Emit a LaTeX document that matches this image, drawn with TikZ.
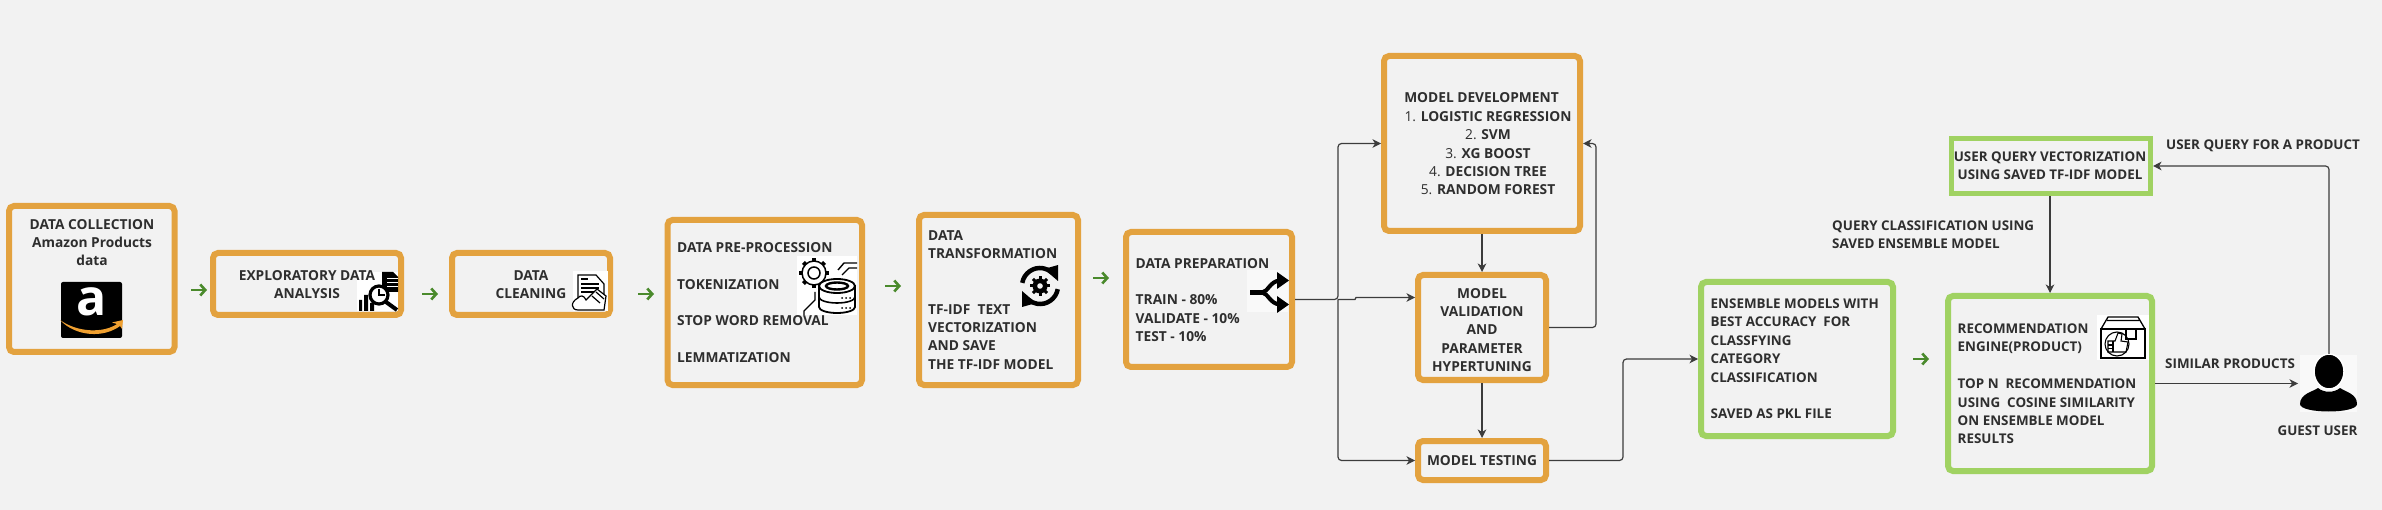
\documentclass[tikz,border=0pt]{standalone}
\usepackage{fontspec}
\setmainfont{Open Sans}
\usetikzlibrary{arrows.meta,calc}
\definecolor{bgc}{HTML}{F2F2F2}
\definecolor{orangeb}{HTML}{E3A23F}
\definecolor{greenb}{HTML}{A0D262}
\definecolor{txt}{HTML}{2E2E2E}
\definecolor{greenarr}{HTML}{4A8A2C}
\definecolor{conn}{HTML}{3C3C3C}
\definecolor{swoosh}{HTML}{F0A030}
\tikzset{
 obox/.style={draw=orangeb,line width=6pt,rounded corners=5pt,fill=none},
 gbox/.style={draw=greenb,line width=6pt,rounded corners=5pt,fill=none},
 gsq/.style={draw=greenb,line width=5pt,fill=none},
 lab/.style={inner sep=0pt,text=txt,font=\fontsize{13.75}{18.4}\selectfont\bfseries},
 labn/.style={inner sep=0pt,text=txt,font=\fontsize{13.4}{18.4}\selectfont\bfseries},
 labc/.style={lab,align=center},
 labl/.style={lab,align=left},
 labnc/.style={labn,align=center},
 labnl/.style={labn,align=left},
 conn line/.style={draw=conn,line width=1.2pt,rounded corners=3.5pt,-{Stealth[length=8.5pt,width=8.5pt,inset=2.5pt]}},
 garrow/.style={draw=greenarr,line width=2.6pt,-{Straight Barb[length=5pt,width=11pt]}},
 patch/.style={fill=white,draw=none},
 ico/.style={draw=black,line width=1.2pt},
}
\begin{document}
\begin{tikzpicture}[x=1pt,y=-1pt]
\fill[bgc] (0,0) rectangle (2382,510);
\useasboundingbox (0,0) rectangle (2382,510);

% boxes
\node[obox,minimum width=165.5pt,minimum height=146pt] (b1) at (91.75,279) {};
\node[obox,minimum width=188pt,minimum height=62pt] (b2) at (307,284) {};
\node[obox,minimum width=158pt,minimum height=62pt] (b3) at (531,284) {};
\node[obox,minimum width=194.5pt,minimum height=165pt] (b4) at (764.75,302.5) {};
\node[obox,minimum width=159pt,minimum height=170pt] (b5) at (998.5,300) {};
\node[obox,minimum width=166pt,minimum height=135pt] (b6) at (1209,299.5) {};
\node[obox,minimum width=196pt,minimum height=175pt] (dev) at (1482,143.5) {};
\node[obox,minimum width=128pt,minimum height=105pt] (val) at (1482,327.5) {};
\node[obox,minimum width=128pt,minimum height=39pt] (tst) at (1482,460.5) {};
\node[gbox,minimum width=192pt,minimum height=154pt] (ens) at (1797,359) {};
\node[gbox,minimum width=204pt,minimum height=175pt] (rec) at (2050,383.5) {};
\node[gsq,minimum width=199pt,minimum height=55pt] (uq) at (2051,166) {};

% Amazon logo
\fill[black,rounded corners=2pt] (61,282) rectangle (122,338);
\node[inner sep=0pt,text=white,font=\fontsize{50}{50}\selectfont\bfseries] (alogo) at (91.5,302) {a};
\path[fill=swoosh] (60,320) .. controls (78,333) and (104,333) .. (117,324) -- (112,322.5) -- (123,320) -- (122,329) -- (120,326) .. controls (104,338) and (76,337) .. (60,320) -- cycle;

% EDA icon
\fill[patch] (357,272) rectangle (398,311);
\fill[black] (382,272) -- (393,272) -- (398,277) -- (398,292) -- (382,292) -- cycle;
\foreach \yy in {279,283,287} \draw[white,line width=1pt] (387,\yy) -- (398,\yy);
\fill[black] (359,300) rectangle (362,311) (364,295) rectangle (368,311) (370,303) rectangle (374,311);
\draw[black,line width=4pt] (386,302) -- (397,310);
\draw[black,line width=3.2pt,fill=white] (379,295) circle (9pt);
\draw[black,line width=1.2pt] (379,289) -- (379,295) -- (385,295);

% cleaning icon
\fill[patch] (573,271) rectangle (608,311);
\draw[ico,fill=white] (578,275) -- (596,275) -- (604,284) -- (604,300) -- (578,300) -- cycle;
\draw[ico] (581,279) -- (588,279) (581,284) -- (599,284) (581,288) -- (599,288) (581,292) -- (599,292);
\draw[ico,fill=white] (578,298) .. controls (570,302) and (571,310) .. (578,310) -- (604,310) -- (606,296) -- (597,289) -- (586,300) .. controls (584,295) and (580,295) .. (578,298) -- cycle;
\draw[ico] (592,296) -- (600,303) (596,292) -- (604,299);

% database + gear icon
\fill[patch] (797,256) rectangle (857,315);
\foreach \a in {0,45,...,315} \draw[black,line width=4pt] ($(814,273)+(\a:11)$) -- ($(814,273)+(\a:15)$);
\draw[black,line width=1.5pt,fill=white] (814,273) circle (12pt);
\draw[black,line width=1.5pt] (814,273) circle (6pt);
\draw[black,line width=1.4pt] (838,270) -- (844,263) -- (857,263) (842,275) -- (849,268) -- (857,268);
\draw[black,line width=1.4pt] (815,292) -- (815,300) -- (804,311) -- (804,315);
\draw[black,line width=1.8pt,fill=white] (819,286) -- (819,307) arc[start angle=180,end angle=360,x radius=18pt,y radius=6pt] -- (855,286) -- cycle;
\draw[black,line width=1.8pt,fill=white] (837,286) ellipse [x radius=18pt,y radius=7pt];
\draw[black,line width=2.4pt] (837,286) ellipse [x radius=11pt,y radius=3.5pt];
\draw[black,line width=1.6pt] (819,297) arc[start angle=180,end angle=360,x radius=18pt,y radius=6pt];
\foreach \xx in {842,846,850} {\fill[black] (\xx,298) circle (1pt); \fill[black] (\xx,308) circle (1pt);}

% rotation + gear icon
\begin{scope}[shift={(1040,286)},x=1pt,y=1pt]
\draw[black,line width=4.5pt] (170:18pt) arc[start angle=170,end angle=50,radius=18pt];
\draw[black,line width=4.5pt] (-10:18pt) arc[start angle=-10,end angle=-130,radius=18pt];
\fill[black] (18,21) -- (18,5) -- (4,17) -- cycle;
\fill[black] (-18,-21) -- (-18,-5) -- (-4,-17) -- cycle;
\foreach \a in {0,45,...,315} \draw[black,line width=3pt] (\a:5pt) -- (\a:10pt);
\fill[black] (0,0) circle (7.5pt);
\fill[bgc] (0,0) circle (2.8pt);
\end{scope}

% split icon
\fill[bgc!50!white] (1247,270) rectangle (1288,312);
\draw[black,line width=4.5pt] (1250,292.5) -- (1266,292.5);
\draw[black,line width=4pt] (1262,292.5) .. controls (1268,292) and (1270,281) .. (1280,280.5);
\draw[black,line width=4pt] (1262,292.5) .. controls (1268,293) and (1270,304) .. (1280,304.5);
\fill[black] (1277,272) -- (1289,280.5) -- (1277,289) -- cycle;
\fill[black] (1277,296) -- (1289,304.5) -- (1277,313) -- cycle;

% thumb box icon
\fill[patch] (2097,315) rectangle (2149,360);
\draw[black,line width=1.3pt] (2101,329) -- (2108,317) -- (2138,317) -- (2145,329) (2107,320.5) -- (2139,320.5);
\draw[black,line width=1.3pt] (2101,329) rectangle (2145,358);
\draw[black,line width=1.3pt,fill=white] (2126,329) rectangle (2136,339);
\draw[black,line width=1.1pt] (2117,344) circle (12pt);
\draw[black,line width=1.1pt] (2108,341) -- (2115,341) -- (2118,333) -- (2122,334) -- (2121,341) -- (2128,342) -- (2126,352) -- (2108,352) -- cycle;
\draw[black,line width=1.1pt] (2113,341) -- (2113,352) (2108,345) -- (2113,345) (2108,348.5) -- (2113,348.5);

% guest user icon
\fill[bgc!50!white] (2300,355) rectangle (2357,412);
\path[fill=black] (2300,404) .. controls (2300,394) and (2312,392) .. (2318,388) .. controls (2324,393) and (2334,393) .. (2340,388) .. controls (2346,392) and (2357,394) .. (2357,404) .. controls (2357,414) and (2300,414) .. (2300,404) -- cycle;
\draw[fill=black,draw=white,line width=1.5pt] (2329,371.5) ellipse [x radius=15pt,y radius=17.5pt];
\coordinate (guestT) at (2329,354);
\coordinate (guestL) at (2298,383.5);

% labels
\node[labc] (t1) at (92,242.5) {DATA COLLECTION\\Amazon Products\\data};
\node[labc] (t2) at (307,284.5) {EXPLORATORY DATA\\ANALYSIS};
\node[labc] (t3) at (531,284.5) {DATA\\CLEANING};
\node[labl,anchor=west] (t4) at (677,302.5) {DATA PRE-PROCESSION\\[18.4pt]TOKENIZATION\\[18.4pt]STOP WORD REMOVAL\\[18.4pt]LEMMATIZATION};
\node[labl,anchor=west] (t5) at (928,300) {DATA\\TRANSFORMATION\\[36.8pt]TF-IDF\ \ TEXT\\VECTORIZATION\\AND SAVE\\THE TF-IDF MODEL};
\node[labl,anchor=west] (t6) at (1135.5,300) {DATA PREPARATION\\[18.4pt]TRAIN - 80\%\\VALIDATE - 10\%\\TEST - 10\%};
\node[labc] (t7) at (1488,144) {MODEL DEVELOPMENT\hspace*{13pt}\\{\mdseries 1.} LOGISTIC REGRESSION\\{\mdseries 2.} SVM\\{\mdseries 3.} XG BOOST\\{\mdseries 4.} DECISION TREE\\{\mdseries 5.} RANDOM FOREST};
\node[labc] (t8) at (1482,330) {MODEL\\VALIDATION\\AND\\PARAMETER\\HYPERTUNING};
\node[labc] (t9) at (1482,461) {MODEL TESTING};
\node[labnl,anchor=west] (t10) at (1710.5,359) {ENSEMBLE MODELS WITH\\BEST ACCURACY\ \ FOR\\CLASSFYING\\CATEGORY\\CLASSIFICATION\\[18.4pt]SAVED AS PKL FILE};
\node[labnc] (t11) at (2050,166) {USER QUERY VECTORIZATION\\USING SAVED TF-IDF MODEL};
\node[labnl,anchor=west] (t12) at (1957.5,384) {RECOMMENDATION\\ENGINE(PRODUCT)\\[18.4pt]TOP N\ \ RECOMMENDATION\\USING\ \ COSINE SIMILARITY\\ON ENSEMBLE MODEL\\RESULTS};
\node[labnl,anchor=west] (t13) at (2166,146) {USER QUERY FOR A PRODUCT};
\node[labnl,anchor=west] (t14) at (1832,234.5) {QUERY CLASSIFICATION USING\\SAVED ENSEMBLE MODEL};
\node[labnl,anchor=west] (t15) at (2165,364) {SIMILAR PRODUCTS};
\node[labnc] (t16) at (2317.5,431) {GUEST USER};

% green arrows
\coordinate (g1a) at (191,290); \coordinate (g1b) at (207,290);
\coordinate (g2a) at (422,294); \coordinate (g2b) at (438,294);
\coordinate (g3a) at (638,294); \coordinate (g3b) at (654,294);
\coordinate (g4a) at (885,286); \coordinate (g4b) at (901,286);
\coordinate (g5a) at (1093,278); \coordinate (g5b) at (1109,278);
\coordinate (g6a) at (1913,359); \coordinate (g6b) at (1929,359);
\foreach \n in {1,...,6} \draw[garrow] (g\n a) -- (g\n b);

% connectors
\coordinate (bus) at (1338,299.5);
\coordinate (jog) at (1355,299.5);
\coordinate (jog2) at (1356,297.5);
\coordinate (rv) at (1596,143.5);
\coordinate (tv) at (1623,359);
\draw[conn line] (b6.east) -- (bus) -- (bus |- dev.west) -- (dev.west);
\draw[conn line] (bus) -- (bus |- tst.west) -- (tst.west);
\draw[conn line,rounded corners=0pt] (bus) -- (jog) -- (jog2) -- (jog2 -| val.west);
\draw[conn line] (dev.south) -- (val.north);
\draw[conn line] (val.south) -- (tst.north);
\draw[conn line] (val.east) -- (val.east -| rv) -- (rv) -- (dev.east);
\draw[conn line] (tst.east) -- (tst.east -| tv) -- (tv) -- (ens.west);
\draw[conn line] (uq.south -| rec.north) -- (rec.north);
\draw[conn line] (rec.east) -- (guestL);
\draw[conn line] (guestT) -- (guestT |- uq.east) -- (uq.east);
\end{tikzpicture}
\end{document}
